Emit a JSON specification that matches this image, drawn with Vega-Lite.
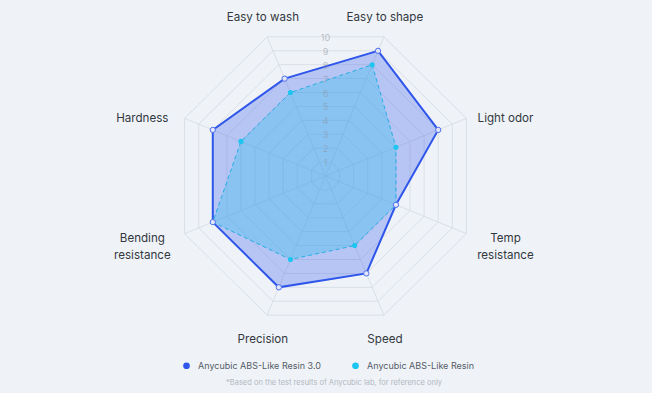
{
  "$schema": "https://vega.github.io/schema/vega-lite/v6.json",
  "width": 652,
  "height": 393,
  "padding": 0,
  "autosize": "none",
  "background": "#eff3f8",
  "config": {"view": {"stroke": null}, "font": "Inter"},
  "datasets": {
    "axes": [
      {"axis": "Easy to shape", "label": "Easy to shape", "idx": 0, "levels": [1,2,3,4,5,6,7,8,9,10]},
      {"axis": "Light odor", "label": "Light odor", "idx": 1, "levels": [1,2,3,4,5,6,7,8,9,10]},
      {"axis": "Temp resistance", "label": "Temp\nresistance", "idx": 2, "levels": [1,2,3,4,5,6,7,8,9,10]},
      {"axis": "Speed", "label": "Speed", "idx": 3, "levels": [1,2,3,4,5,6,7,8,9,10]},
      {"axis": "Precision", "label": "Precision", "idx": 4, "levels": [1,2,3,4,5,6,7,8,9,10]},
      {"axis": "Bending resistance", "label": "Bending\nresistance", "idx": 5, "levels": [1,2,3,4,5,6,7,8,9,10]},
      {"axis": "Hardness", "label": "Hardness", "idx": 6, "levels": [1,2,3,4,5,6,7,8,9,10]},
      {"axis": "Easy to wash", "label": "Easy to wash", "idx": 7, "levels": [1,2,3,4,5,6,7,8,9,10]}
    ],
    "scores": [
      {"series": "Anycubic ABS-Like Resin 3.0", "axis": "Easy to shape", "value": 9},
      {"series": "Anycubic ABS-Like Resin 3.0", "axis": "Light odor", "value": 8},
      {"series": "Anycubic ABS-Like Resin 3.0", "axis": "Temp resistance", "value": 5},
      {"series": "Anycubic ABS-Like Resin 3.0", "axis": "Speed", "value": 7},
      {"series": "Anycubic ABS-Like Resin 3.0", "axis": "Precision", "value": 8},
      {"series": "Anycubic ABS-Like Resin 3.0", "axis": "Bending resistance", "value": 8},
      {"series": "Anycubic ABS-Like Resin 3.0", "axis": "Hardness", "value": 8},
      {"series": "Anycubic ABS-Like Resin 3.0", "axis": "Easy to wash", "value": 7},
      {"series": "Anycubic ABS-Like Resin", "axis": "Easy to shape", "value": 8},
      {"series": "Anycubic ABS-Like Resin", "axis": "Light odor", "value": 5},
      {"series": "Anycubic ABS-Like Resin", "axis": "Temp resistance", "value": 5},
      {"series": "Anycubic ABS-Like Resin", "axis": "Speed", "value": 5},
      {"series": "Anycubic ABS-Like Resin", "axis": "Precision", "value": 6},
      {"series": "Anycubic ABS-Like Resin", "axis": "Bending resistance", "value": 8},
      {"series": "Anycubic ABS-Like Resin", "axis": "Hardness", "value": 6},
      {"series": "Anycubic ABS-Like Resin", "axis": "Easy to wash", "value": 6}
    ],
    "ticks": [
      {"tick": 1}, {"tick": 2}, {"tick": 3}, {"tick": 4}, {"tick": 5},
      {"tick": 6}, {"tick": 7}, {"tick": 8}, {"tick": 9}, {"tick": 10}
    ],
    "notes": [
      {"note": "*Based on the test results of Anycubic lab, for reference only"}
    ]
  },
  "encoding": {
    "x": {"field": "x", "type": "quantitative", "scale": {"domain": [-21.344, 21.41], "nice": false, "zero": false}, "axis": null},
    "y": {"field": "y", "type": "quantitative", "scale": {"domain": [-14.409, 11.687], "nice": false, "zero": false}, "axis": null}
  },
  "layer": [
    {
      "data": {"name": "axes"},
      "transform": [
        {"flatten": ["levels"], "as": ["level"]},
        {"calculate": "(datum.idx * 45 + 22.5) * PI / 180", "as": "ang"},
        {"calculate": "datum.level * sin(datum.ang)", "as": "x"},
        {"calculate": "datum.level * cos(datum.ang)", "as": "y"}
      ],
      "mark": {"type": "line", "interpolate": "linear-closed", "stroke": "#d9dfe6", "strokeWidth": 1},
      "encoding": {
        "detail": {"field": "level", "type": "nominal"},
        "order": {"field": "idx", "type": "quantitative"}
      }
    },
    {
      "data": {"name": "axes"},
      "transform": [
        {"calculate": "(datum.idx * 45 + 22.5) * PI / 180", "as": "ang"},
        {"calculate": "10 * sin(datum.ang)", "as": "x"},
        {"calculate": "10 * cos(datum.ang)", "as": "y"}
      ],
      "mark": {"type": "rule", "stroke": "#d9dfe6", "strokeWidth": 1},
      "encoding": {
        "x2": {"datum": 0},
        "y2": {"datum": 0}
      }
    },
    {
      "data": {"name": "scores"},
      "transform": [
        {"filter": "datum.series === 'Anycubic ABS-Like Resin 3.0'"},
        {"lookup": "axis", "from": {"data": {"name": "axes"}, "key": "axis", "fields": ["idx"]}},
        {"calculate": "(datum.idx * 45 + 22.5) * PI / 180", "as": "ang"},
        {"calculate": "datum.value * sin(datum.ang)", "as": "x"},
        {"calculate": "datum.value * cos(datum.ang)", "as": "y"}
      ],
      "mark": {"type": "line", "interpolate": "linear-closed", "stroke": "#2f56ea", "strokeWidth": 2, "fill": "#2f56ea", "fillOpacity": 0.29},
      "encoding": {"order": {"field": "idx", "type": "quantitative"}}
    },
    {
      "data": {"name": "scores"},
      "transform": [
        {"filter": "datum.series === 'Anycubic ABS-Like Resin'"},
        {"lookup": "axis", "from": {"data": {"name": "axes"}, "key": "axis", "fields": ["idx"]}},
        {"calculate": "(datum.idx * 45 + 22.5) * PI / 180", "as": "ang"},
        {"calculate": "datum.value * sin(datum.ang)", "as": "x"},
        {"calculate": "datum.value * cos(datum.ang)", "as": "y"}
      ],
      "mark": {"type": "line", "interpolate": "linear-closed", "stroke": "#25ade2", "strokeWidth": 1, "strokeDash": [4, 3], "fill": "#22c0ee", "fillOpacity": 0.3},
      "encoding": {"order": {"field": "idx", "type": "quantitative"}}
    },
    {
      "data": {"name": "ticks"},
      "transform": [
        {"calculate": "0", "as": "x"},
        {"calculate": "datum.tick * cos(PI / 8)", "as": "y"}
      ],
      "mark": {"type": "text", "font": "Inter", "fontSize": 9, "color": "#8a939e", "opacity": 0.55, "align": "center", "baseline": "middle", "dy": 1},
      "encoding": {"text": {"field": "tick", "type": "quantitative"}}
    },
    {
      "data": {"name": "scores"},
      "transform": [
        {"lookup": "axis", "from": {"data": {"name": "axes"}, "key": "axis", "fields": ["idx"]}},
        {"calculate": "(datum.idx * 45 + 22.5) * PI / 180", "as": "ang"},
        {"calculate": "datum.value * sin(datum.ang)", "as": "x"},
        {"calculate": "datum.value * cos(datum.ang)", "as": "y"}
      ],
      "mark": {"type": "point", "filled": true, "opacity": 1, "size": 26},
      "encoding": {
        "color": {
          "field": "series", "type": "nominal",
          "scale": {"domain": ["Anycubic ABS-Like Resin 3.0", "Anycubic ABS-Like Resin"], "range": ["#2f56ea", "#1cc6f0"]},
          "legend": {
            "orient": "none", "legendX": 182, "legendY": 361, "direction": "horizontal", "title": null,
            "symbolType": "circle", "symbolSize": 45, "symbolOpacity": 1, "symbolStrokeWidth": 0,
            "labelFont": "Inter", "labelFontSize": 9, "labelColor": "#555b66", "labelOffset": 7,
            "columnPadding": 30
          }
        }
      }
    },
    {
      "data": {"name": "scores"},
      "transform": [
        {"filter": "datum.series === 'Anycubic ABS-Like Resin 3.0'"},
        {"lookup": "axis", "from": {"data": {"name": "axes"}, "key": "axis", "fields": ["idx"]}},
        {"calculate": "(datum.idx * 45 + 22.5) * PI / 180", "as": "ang"},
        {"calculate": "datum.value * sin(datum.ang)", "as": "x"},
        {"calculate": "datum.value * cos(datum.ang)", "as": "y"}
      ],
      "mark": {"type": "point", "filled": true, "opacity": 1, "size": 28, "fill": "#e2e6fb", "stroke": "#5474ee", "strokeWidth": 1}
    },
    {
      "data": {"name": "axes"},
      "transform": [
        {"calculate": "(datum.idx * 45 + 22.5) * PI / 180", "as": "ang"},
        {"calculate": "(222.7 * sin(datum.ang) - 24.2 * (sin(datum.ang) > 0 ? 1 : -1) - 1.6) / 15.25", "as": "x"},
        {"calculate": "(187.6 * cos(datum.ang) - 11.85 * (cos(datum.ang) > 0 ? 1 : -1) + 3) / 15.06", "as": "y"}
      ],
      "mark": {"type": "text", "font": "Inter", "fontSize": 11.6, "color": "#333840", "align": "center", "baseline": "top", "lineBreak": "\n", "lineHeight": 17},
      "encoding": {"text": {"field": "label", "type": "nominal"}}
    },
    {
      "data": {"name": "notes"},
      "transform": [
        {"calculate": "0.56", "as": "x"},
        {"calculate": "-13.75", "as": "y"}
      ],
      "mark": {"type": "text", "font": "Inter", "fontSize": 7.5, "color": "#b2b7bf", "align": "center", "baseline": "middle"},
      "encoding": {
        "text": {"field": "note", "type": "nominal"}
      }
    }
  ]
}
